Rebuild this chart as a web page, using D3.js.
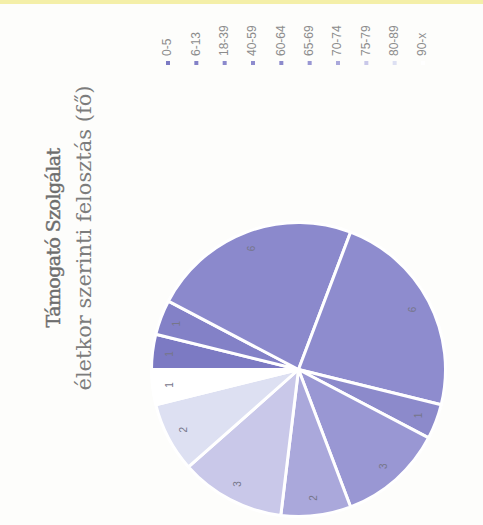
<!DOCTYPE html>
<html><head><meta charset="utf-8">
<script src="https://cdn.jsdelivr.net/npm/d3@7"></script>
<style>html,body{margin:0;padding:0;background:#fdfdfb;}svg{display:block;}</style>
</head><body>
<script>
const categories = ["0-5","6-13","18-39","40-59","60-64","65-69","70-74","75-79","80-89","90-x"];
const values = [1,1,6,6,1,3,2,3,2,1];
const colors = ["#7c7ac3","#8381c7","#8b89cc","#8e8cce","#8c8acb","#9997d3","#aaa8db","#c9c8e9","#dde0f2","#ffffff"];
const titleLines = ["Támogató Szolgálat","életkor szerinti felosztás (fő)"];

const W=483,H=525;
const svg=d3.select("body").append("svg").attr("width",W).attr("height",H);
svg.append("rect").attr("width",W).attr("height",H).attr("fill","#fdfdfb");
svg.append("rect").attr("width",W).attr("height",4).attr("fill","#f4efa8");

const cx=298.5,cy=369.5,r=147;
const pie=d3.pie().sort(null).value(d=>d).startAngle(-Math.PI/2).endAngle(1.5*Math.PI);
const arcs=pie(values);
const arc=d3.arc().innerRadius(0).outerRadius(r);
const labelArc=d3.arc().innerRadius(r*0.88).outerRadius(r*0.88);
const g=svg.append("g").attr("transform",`translate(${cx},${cy})`);
g.selectAll("path").data(arcs).join("path")
  .attr("d",arc).attr("fill",(d,i)=>colors[i])
  .attr("stroke","#ffffff").attr("stroke-width",3).attr("stroke-linejoin","round");
g.selectAll("text").data(arcs).join("text")
  .attr("transform",d=>{const c=labelArc.centroid(d);return `translate(${c[0]},${c[1]}) rotate(-90)`;})
  .attr("text-anchor","middle").attr("dominant-baseline","middle")
  .attr("font-family","Liberation Sans, sans-serif").attr("font-size",10)
  .attr("fill","#76768a").text(d=>d.data);

// legend
const lx=d3.scalePoint().domain(categories).range([168,423]);
const lg=svg.append("g");
categories.forEach((c,i)=>{
  lg.append("rect").attr("x",lx(c)-2).attr("y",61).attr("width",4).attr("height",4).attr("fill",colors[i]);
  lg.append("text").attr("transform",`translate(${lx(c)},56) rotate(-90)`)
    .attr("text-anchor","start").attr("dominant-baseline","middle")
    .attr("font-family","Liberation Sans, sans-serif").attr("font-size",12)
    .attr("fill","#8c8c8c").text(c);
});

// title
const tx=[55,85];
const tsize=[19,21];
titleLines.forEach((t,i)=>{
  svg.append("text").attr("transform",`translate(${tx[i]},238) rotate(-90)`)
    .attr("text-anchor","middle").attr("dominant-baseline","middle")
    .attr("font-family","DejaVu Serif, serif").attr("font-size",tsize[i])
    .attr("letter-spacing",i===0?-0.6:0)
    .attr("fill",i===0?"#6e6e6e":"#7c7c7c")
    .attr("stroke",i===0?"#6e6e6e":"none").attr("stroke-width",0.4)
    .text(t);
});
</script>
</body></html>
